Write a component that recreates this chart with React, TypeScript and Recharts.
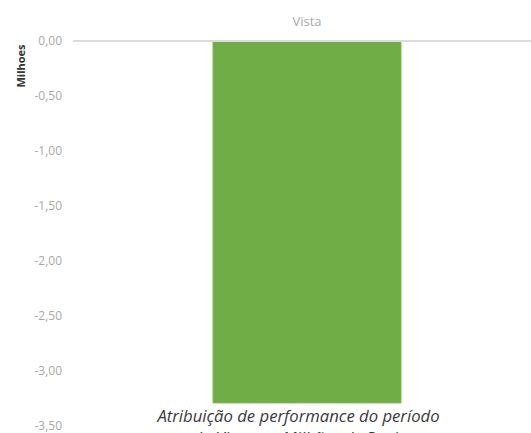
import { Bar, BarChart, XAxis, YAxis } from 'recharts'

const categories = ['Vista']
const values = [-3.29]
const yTicks = [0, -0.5, -1, -1.5, -2, -2.5, -3, -3.5]

const data = categories.map((name, i) => ({ name, value: values[i] }))

const fmt = (v: number) => v.toFixed(2).replace('.', ',')

const FONT = '"Open Sans", sans-serif'

const YTitle = () => (
  <text
    x={20}
    y={66}
    transform="rotate(-90 20 66)"
    textAnchor="middle"
    dominantBaseline="central"
    fontFamily={FONT}
    fontWeight={700}
    fontSize={11}
    fill="#333"
  >
    Milhoes
  </text>
)

export default function App() {
  return (
    <div style={{ width: 531, height: 433, overflow: 'hidden', position: 'relative', background: '#fff' }}>
      <style>{'html, body { margin: 0; padding: 0; overflow: hidden; }'}</style>
      <BarChart
        width={541}
        height={433}
        data={data}
        margin={{ top: 0, right: 0, bottom: 7, left: 0 }}
      >
        <XAxis
          dataKey="name"
          orientation="top"
          height={41}
          tickLine={false}
          tickMargin={9}
          axisLine={{ stroke: '#dcdcdc', strokeWidth: 2 }}
          tick={{ fill: '#a8a8a8', fontSize: 13, fontFamily: FONT }}
        />
        <YAxis
          width={73}
          domain={[-3.5, 0]}
          ticks={yTicks}
          tickFormatter={fmt}
          axisLine={false}
          tickLine={false}
          tickMargin={5}
          tick={{ fill: '#a8a8a8', fontSize: 12, fontFamily: FONT }}
          label={<YTitle />}
        />
        <Bar dataKey="value" fill="#70ad47" stroke="#7cb956" strokeWidth={1} barSize={188} isAnimationActive={false} />
      </BarChart>
      <div
        style={{
          position: 'absolute',
          left: 0,
          width: 597,
          top: 405,
          textAlign: 'center',
          fontFamily: FONT,
          fontStyle: 'italic',
          fontSize: 16.7,
          lineHeight: '22px',
          color: '#3a3a3a',
        }}
      >
        Atribuição de performance do período
        <br />
        da Vista em Milhões de Reais
      </div>
    </div>
  )
}
